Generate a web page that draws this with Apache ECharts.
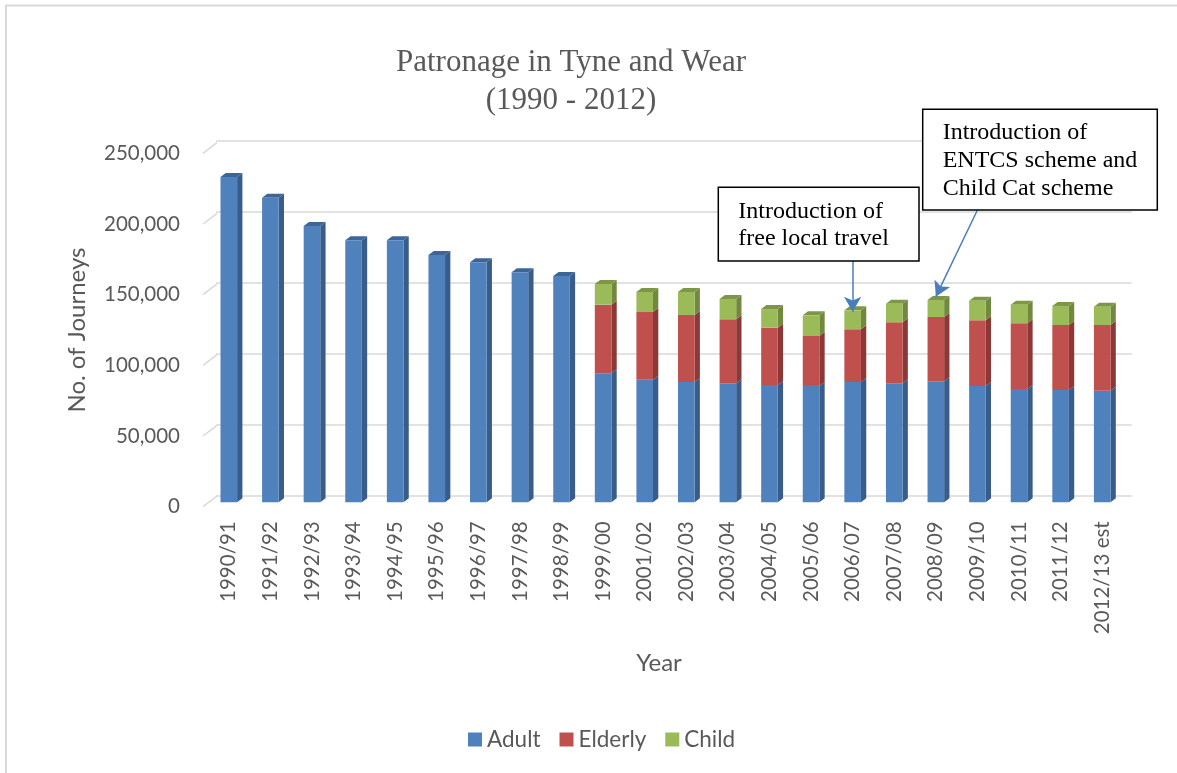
<!DOCTYPE html>
<html>
<head>
<meta charset="utf-8">
<title>Patronage in Tyne and Wear</title>
<script src="https://cdn.jsdelivr.net/npm/echarts@6.0.0/dist/echarts.min.js"></script>
<style>
  html, body { margin: 0; padding: 0; background: #fff; }
  #main { width: 1177px; height: 773px; }
</style>
</head>
<body>
<div id="main"></div>
<script>
// data
var years = ["1990/91", "1991/92", "1992/93", "1993/94", "1994/95", "1995/96", "1996/97",
  "1997/98", "1998/99", "1999/00", "2001/02", "2002/03", "2003/04", "2004/05", "2005/06",
  "2006/07", "2007/08", "2008/09", "2009/10", "2010/11", "2011/12", "2012/13 est"];
var adult = [228500, 213900, 194000, 184000, 184000, 173700, 168500, 161500, 158900,
  90600, 86100, 84500, 83600, 82400, 81700, 84500, 83600, 85000, 81700, 79600, 78900, 78400];
var elderly = [null, null, null, null, null, null, null, null, null,
  48200, 47500, 47000, 44900, 40200, 35100, 37000, 42800, 45100, 46100, 46100, 45600, 46100];
var child = [null, null, null, null, null, null, null, null, null,
  14500, 14100, 16200, 14300, 13100, 14500, 13300, 13100, 12000, 13800, 13100, 13400, 12900];
var yTicks = [0, 50000, 100000, 150000, 200000, 250000];

var frontColors = ["#4f81bd", "#c0504d", "#9bbb59"];
var sideColors = ["#385d8a", "#8c3836", "#71893f"];
var topColors = ["#3d6698", "#9a3e3b", "#7d9747"];
var textColor = "#595959";
var sansFont = "Lato";
var serifFont = "Liberation Serif";

// side/top faces of each stacked piece: [index, low, high, colorIdx, isTop]
var depthData = [];
years.forEach(function (y, i) {
  var parts = [adult[i], elderly[i], child[i]];
  var base = 0;
  var last = 0;
  parts.forEach(function (v, k) { if (v != null) last = k; });
  parts.forEach(function (v, k) {
    if (v == null) return;
    depthData.push([i, base, base + v, k, k === last ? 1 : 0]);
    base += v;
  });
});

var halfW = 8.3, dx = 5.3, dy = 4;

function renderDepth(params, api) {
  var i = api.value(0);
  var top = api.coord([i, api.value(2)]);
  var bot = api.coord([i, api.value(1)]);
  var k = api.value(3);
  var x1 = top[0] + halfW;
  var children = [{
    type: "polygon",
    shape: { points: [[x1, top[1]], [x1 + dx, top[1] - dy], [x1 + dx, bot[1] - dy], [x1, bot[1]]] },
    style: { fill: sideColors[k] }
  }];
  if (api.value(4) === 1) {
    children.push({
      type: "polygon",
      shape: { points: [[x1 - 2 * halfW, top[1]], [x1, top[1]], [x1 + dx, top[1] - dy], [x1 - 2 * halfW + dx, top[1] - dy]] },
      style: { fill: topColors[k] }
    });
  }
  return { type: "group", children: children };
}

// little diagonal lines from the labels to the back wall
function renderStub(params, api) {
  var p = api.coord([0, api.value(0)]);
  var x0 = params.coordSys.x;
  return {
    type: "line",
    shape: { x1: x0, y1: p[1], x2: x0 + 14, y2: p[1] - 10.7 },
    style: { stroke: "#d9d9d9", lineWidth: 1.5 }
  };
}

var chart = echarts.init(document.getElementById("main"));
chart.setOption({
  animation: false,
  backgroundColor: "#fff",
  grid: [
    // back wall with gridlines
    { left: 216, top: 141, width: 915.7, height: 355 },
    // bars
    { left: 208, top: 146.3, width: 915, height: 356 },
    // front edge with the labels
    { left: 203, top: 153.3, width: 14, height: 353.4 }
  ],
  xAxis: [
    { gridIndex: 0, type: "category", data: years, show: false },
    {
      gridIndex: 1, type: "category", data: years,
      axisLine: { show: false }, axisTick: { show: false },
      axisLabel: { rotate: 90, margin: 19, interval: 0, color: textColor, fontFamily: sansFont, fontSize: 20.5 }
    },
    { gridIndex: 2, type: "value", min: 0, max: 1, show: false }
  ],
  yAxis: [
    {
      gridIndex: 0, type: "value", min: 0, max: 250000, interval: 50000,
      axisLine: { show: false }, axisTick: { show: false }, axisLabel: { show: false },
      splitLine: { lineStyle: { color: "#d9d9d9", width: 1.5 } }
    },
    {
      gridIndex: 1, type: "value", min: 0, max: 250000, interval: 50000,
      axisLine: { show: false }, axisTick: { show: false }, axisLabel: { show: false },
      splitLine: { show: false }
    },
    {
      gridIndex: 2, type: "value", min: 0, max: 250000, interval: 50000,
      axisLine: { show: false }, axisTick: { show: false }, splitLine: { show: false },
      axisLabel: {
        margin: 23, color: textColor, fontFamily: sansFont, fontSize: 20.5,
        formatter: function (v) { return v.toLocaleString("en-GB"); }
      },
      name: "No. of Journeys", nameLocation: "middle", nameGap: 114,
      nameTextStyle: { color: textColor, fontFamily: sansFont, fontSize: 24 }
    }
  ],
  legend: {
    data: ["Adult", "Elderly", "Child"],
    left: 463, top: 723,
    icon: "rect", itemWidth: 14, itemHeight: 14, itemGap: 19,
    textStyle: { color: textColor, fontFamily: sansFont, fontSize: 22.5 }
  },
  series: [
    {
      name: "Adult", type: "bar", stack: "total", xAxisIndex: 1, yAxisIndex: 1,
      barWidth: 16.6, data: adult, itemStyle: { color: frontColors[0] },
      markLine: {
        silent: true, symbol: ["none", "arrow"], symbolSize: [13, 15],
        label: { show: false },
        lineStyle: { color: "#4a7ebb", width: 1.5, type: "solid" },
        data: [
          [{ coord: ["2006/07", 169450] }, { coord: ["2006/07", 133850] }],
          [{ coord: ["2009/10", 205300] }, { coord: ["2008/09", 144400] }]
        ]
      }
    },
    {
      name: "Elderly", type: "bar", stack: "total", xAxisIndex: 1, yAxisIndex: 1,
      barWidth: 16.6, data: elderly, itemStyle: { color: frontColors[1] }
    },
    {
      name: "Child", type: "bar", stack: "total", xAxisIndex: 1, yAxisIndex: 1,
      barWidth: 16.6, data: child, itemStyle: { color: frontColors[2] }
    },
    {
      name: "depth", type: "custom", xAxisIndex: 1, yAxisIndex: 1,
      renderItem: renderDepth, data: depthData, encode: { x: 0, y: [1, 2] }, silent: true
    },
    {
      name: "stubs", type: "custom", xAxisIndex: 2, yAxisIndex: 2,
      renderItem: renderStub, data: yTicks.map(function (v) { return [v]; }),
      encode: { y: 0 }, silent: true
    }
  ],
  graphic: [
    {
      type: "polyline", silent: true,
      shape: { points: [[6, 773], [6, 5.5], [1177, 5.5]] },
      style: { stroke: "#d9d9d9", lineWidth: 2, fill: null }
    },
    {
      type: "text", x: 571, y: 81.5, silent: true,
      style: {
        text: "Patronage in Tyne and Wear\n(1990 - 2012)", align: "center", verticalAlign: "middle",
        fill: textColor, font: "31px " + serifFont, lineHeight: 38
      }
    },
    {
      type: "text", x: 659, y: 663, silent: true,
      style: { text: "Year", align: "center", verticalAlign: "middle", fill: textColor, font: "24px " + sansFont }
    },
    {
      type: "rect", silent: true, z: 100,
      shape: { x: 718.3, y: 187.3, width: 200.7, height: 73.7 },
      style: { fill: "#fff", stroke: "#000", lineWidth: 1.5 }
    },
    {
      type: "text", x: 738.3, y: 225.3, silent: true, z: 101,
      style: {
        text: "Introduction of\nfree local travel", verticalAlign: "middle",
        fill: "#000", font: "24px " + serifFont, lineHeight: 27.7
      }
    },
    {
      type: "rect", silent: true, z: 100,
      shape: { x: 922.7, y: 109.3, width: 234.6, height: 100.7 },
      style: { fill: "#fff", stroke: "#000", lineWidth: 1.5 }
    },
    {
      type: "text", x: 942.7, y: 160.8, silent: true, z: 101,
      style: {
        text: "Introduction of\nENTCS scheme and\nChild Cat scheme", verticalAlign: "middle",
        fill: "#000", font: "24px " + serifFont, lineHeight: 27.6
      }
    }
  ]
});
</script>
</body>
</html>
